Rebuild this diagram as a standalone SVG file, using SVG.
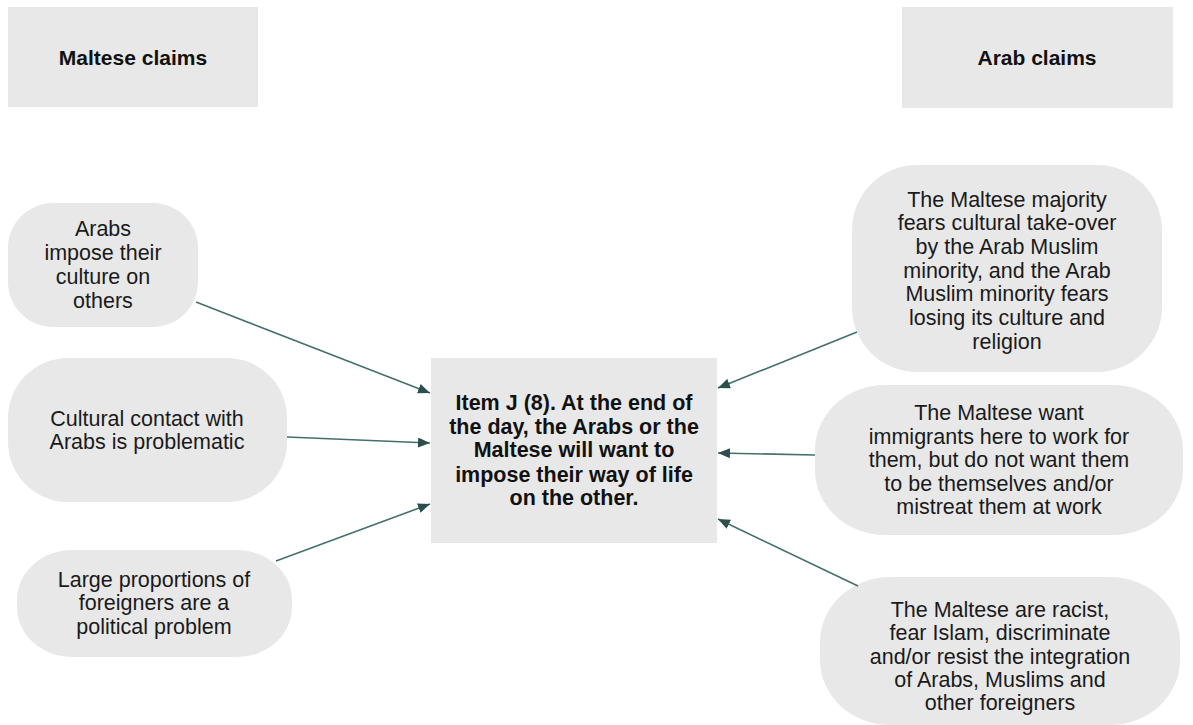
<svg xmlns="http://www.w3.org/2000/svg" width="1193" height="725" viewBox="0 0 1193 725">
  <style>
    .box { fill: #e8e8e8; }
    .t { font-family: "Liberation Sans", Arial, sans-serif; font-size: 21.5px; fill: #1a1a1a; text-anchor: middle; dominant-baseline: central; }
    .b { font-weight: bold; fill: #111; }
    .h { font-family: "Liberation Sans", Arial, sans-serif; font-size: 21px; font-weight: bold; fill: #111; text-anchor: middle; dominant-baseline: central; }
    .link { stroke: #44706b; stroke-width: 1.6; fill: none; marker-end: url(#head); }
  </style>
  <defs>
    <marker id="head" viewBox="0 0 12 10" refX="12" refY="5" markerWidth="12" markerHeight="10" markerUnits="userSpaceOnUse" orient="auto">
      <path d="M0,0 L12,5 L0,10 z" fill="#2c4f4c"/>
    </marker>
  </defs>

  <rect width="1193" height="725" fill="#ffffff"/>

  <g id="maltese-header">
    <rect class="box" x="8" y="7" width="250" height="100"/>
    <text class="h" x="133" y="57">Maltese claims</text>
  </g>

  <g id="arab-header">
    <rect class="box" x="902" y="7" width="271" height="101"/>
    <text class="h" x="1037" y="57">Arab claims</text>
  </g>

  <g id="m1">
    <rect class="box" x="8" y="203" width="190" height="124" rx="45" ry="45"/>
    <text class="t" x="103" y="229">Arabs</text>
    <text class="t" x="103" y="253">impose their</text>
    <text class="t" x="103" y="277">culture on</text>
    <text class="t" x="103" y="301">others</text>
  </g>

  <g id="m2">
    <rect class="box" x="8" y="358" width="279" height="144" rx="60" ry="60"/>
    <text class="t" x="147" y="419">Cultural contact with</text>
    <text class="t" x="147" y="442">Arabs is problematic</text>
  </g>

  <g id="m3">
    <rect class="box" x="17" y="550" width="275" height="107" rx="55" ry="50"/>
    <text class="t" x="154" y="580">Large proportions of</text>
    <text class="t" x="154" y="603">foreigners are a</text>
    <text class="t" x="154" y="627">political problem</text>
  </g>

  <g id="item-j">
    <rect class="box" x="431" y="358" width="286" height="185"/>
    <text class="t b" x="574" y="403">Item J (8). At the end of</text>
    <text class="t b" x="574" y="427">the day, the Arabs or the</text>
    <text class="t b" x="574" y="450">Maltese will want to</text>
    <text class="t b" x="574" y="475">impose their way of life</text>
    <text class="t b" x="574" y="498">on the other.</text>
  </g>

  <g id="a1">
    <rect class="box" x="852" y="165" width="310" height="207" rx="65" ry="65"/>
    <text class="t" x="1007" y="200">The Maltese majority</text>
    <text class="t" x="1007" y="223">fears cultural take-over</text>
    <text class="t" x="1007" y="247">by the Arab Muslim</text>
    <text class="t" x="1007" y="271">minority, and the Arab</text>
    <text class="t" x="1007" y="294">Muslim minority fears</text>
    <text class="t" x="1007" y="318">losing its culture and</text>
    <text class="t" x="1007" y="342">religion</text>
  </g>

  <g id="a2">
    <rect class="box" x="815" y="385" width="368" height="150" rx="70" ry="65"/>
    <text class="t" x="999" y="413">The Maltese want</text>
    <text class="t" x="999" y="437">immigrants here to work for</text>
    <text class="t" x="999" y="460">them, but do not want them</text>
    <text class="t" x="999" y="484">to be themselves and/or</text>
    <text class="t" x="999" y="507">mistreat them at work</text>
  </g>

  <g id="a3">
    <rect class="box" x="820" y="577" width="360" height="148" rx="70" ry="65"/>
    <text class="t" x="1000" y="610">The Maltese are racist,</text>
    <text class="t" x="1000" y="633">fear Islam, discriminate</text>
    <text class="t" x="1000" y="657">and/or resist the integration</text>
    <text class="t" x="1000" y="680">of Arabs, Muslims and</text>
    <text class="t" x="1000" y="703">other foreigners</text>
  </g>

  <g id="connectors">
    <line class="link" x1="196" y1="302" x2="430" y2="393"/>
    <line class="link" x1="287" y1="437" x2="430" y2="443"/>
    <line class="link" x1="276" y1="561" x2="430" y2="504"/>
    <line class="link" x1="857" y1="332" x2="718" y2="388"/>
    <line class="link" x1="815" y1="455" x2="718" y2="453"/>
    <line class="link" x1="858" y1="586" x2="718" y2="519"/>
  </g>
</svg>
